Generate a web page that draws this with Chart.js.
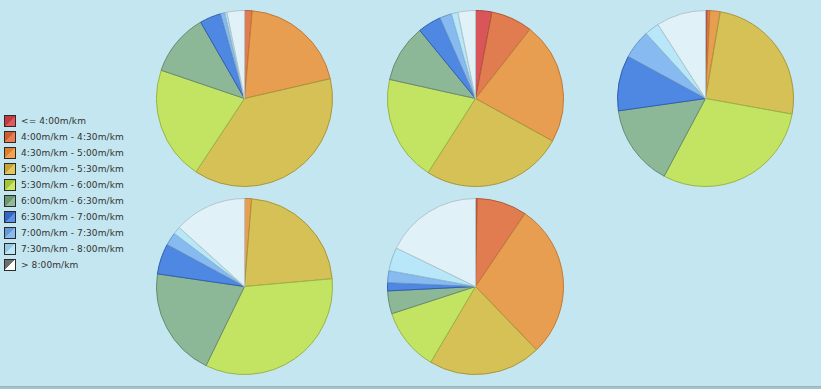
<!DOCTYPE html>
<html>
<head>
<meta charset="utf-8">
<script src="https://cdn.jsdelivr.net/npm/chart.js@4/dist/chart.umd.min.js"></script>
<style>
  html, body { margin: 0; padding: 0; }
  body { width: 821px; height: 389px; background: #c3e6f0; position: relative; overflow: hidden; font-family: "DejaVu Sans", Verdana, sans-serif; }
  #bottom { position: absolute; left: 0; top: 386px; width: 821px; height: 3px; background: #a6c3cc; border-top: 1px solid #98b4bd; box-sizing: border-box; }
  .pie { position: absolute; }
  #legend { position: absolute; left: 4px; top: 113px; }
  .row { height: 16px; display: flex; align-items: center; white-space: nowrap; }
  .sw { width: 12px; height: 12px; box-sizing: border-box; border: 1px solid #2a2a2a; margin-right: 5px; }
  .lbl { font-size: 9px; color: #333; letter-spacing: 0.1px; }
</style>
</head>
<body>
<div id="legend"></div>
<canvas id="p1" class="pie" width="177" height="177"></canvas>
<canvas id="p2" class="pie" width="177" height="177"></canvas>
<canvas id="p3" class="pie" width="177" height="177"></canvas>
<canvas id="p4" class="pie" width="177" height="177"></canvas>
<canvas id="p5" class="pie" width="177" height="177"></canvas>
<div id="bottom"></div>
<script>
// Categories (pace buckets)
const categories = [
  "<= 4:00m/km",
  "4:00m/km - 4:30m/km",
  "4:30m/km - 5:00m/km",
  "5:00m/km - 5:30m/km",
  "5:30m/km - 6:00m/km",
  "6:00m/km - 6:30m/km",
  "6:30m/km - 7:00m/km",
  "7:00m/km - 7:30m/km",
  "7:30m/km - 8:00m/km",
  "> 8:00m/km"
];

// Share of each pace bucket (%) for each of the five pies
const pie1Values = [0, 1.4, 20.0, 37.9, 20.9, 11.5, 3.9, 0.8, 0.4, 3.2];
const pie2Values = [3.0, 7.6, 22.4, 26.0, 19.4, 10.6, 4.3, 2.2, 1.2, 3.2];
const pie3Values = [0.3, 0.5, 1.9, 25.2, 30.0, 15.0, 10.2, 5.3, 2.7, 9.1];
const pie4Values = [0, 0, 1.3, 22.3, 33.6, 20.1, 5.6, 2.4, 1.4, 13.3];
const pie5Values = [0.3, 9.2, 28.3, 20.7, 11.5, 4.2, 1.5, 2.2, 4.3, 17.8];

// Styles
const fillColors = ["#d9555a", "#e07c50", "#e89e50", "#d6c157", "#c3e462", "#8cb898", "#4f88e2", "#87baf0", "#b7e7f8", "#e1f1f8"];
const borderColors = ["#a83a3e", "#b05a35", "#c07a38", "#a89638", "#98b448", "#688a72", "#2f5fb0", "#6a94c4", "#90bccc", "#b4c4cc"];
const legendDark = ["#c03a40", "#cc5e30", "#dc8030", "#c4a436", "#a4c63a", "#6a9870", "#3466c8", "#6898d8", "#96c8e0", "#6e6e6e"];
const legendLight = ["#e0585e", "#ea7e50", "#f2a252", "#e2c85a", "#cae862", "#92ba9a", "#5a92ea", "#8abaf2", "#bae8f8", "#ffffff"];

// Legend (HTML text)
const legendEl = document.getElementById("legend");
categories.forEach((c, i) => {
  const row = document.createElement("div");
  row.className = "row";
  const sw = document.createElement("div");
  sw.className = "sw";
  sw.style.background = `linear-gradient(135deg, ${legendDark[i]} 50%, ${legendLight[i]} 50%)`;
  const lbl = document.createElement("span");
  lbl.className = "lbl";
  lbl.textContent = c;
  row.appendChild(sw);
  row.appendChild(lbl);
  legendEl.appendChild(row);
});

const pies = [
  { id: "p1", cx: 244, cy: 98, values: pie1Values },
  { id: "p2", cx: 475, cy: 98, values: pie2Values },
  { id: "p3", cx: 705, cy: 98, values: pie3Values },
  { id: "p4", cx: 244, cy: 286, values: pie4Values },
  { id: "p5", cx: 475, cy: 286, values: pie5Values }
];

pies.forEach(p => {
  const el = document.getElementById(p.id);
  el.style.left = (p.cx - 88.5) + "px";
  el.style.top = (p.cy - 88.5) + "px";
  new Chart(el, {
    type: "pie",
    data: {
      labels: categories,
      datasets: [{
        data: p.values,
        backgroundColor: fillColors,
        borderColor: borderColors,
        borderWidth: 1
      }]
    },
    options: {
      responsive: false,
      devicePixelRatio: 1,
      animation: false,
      layout: { padding: 0 },
      plugins: { legend: { display: false }, tooltip: { enabled: false } }
    }
  });
});
</script>
</body>
</html>
